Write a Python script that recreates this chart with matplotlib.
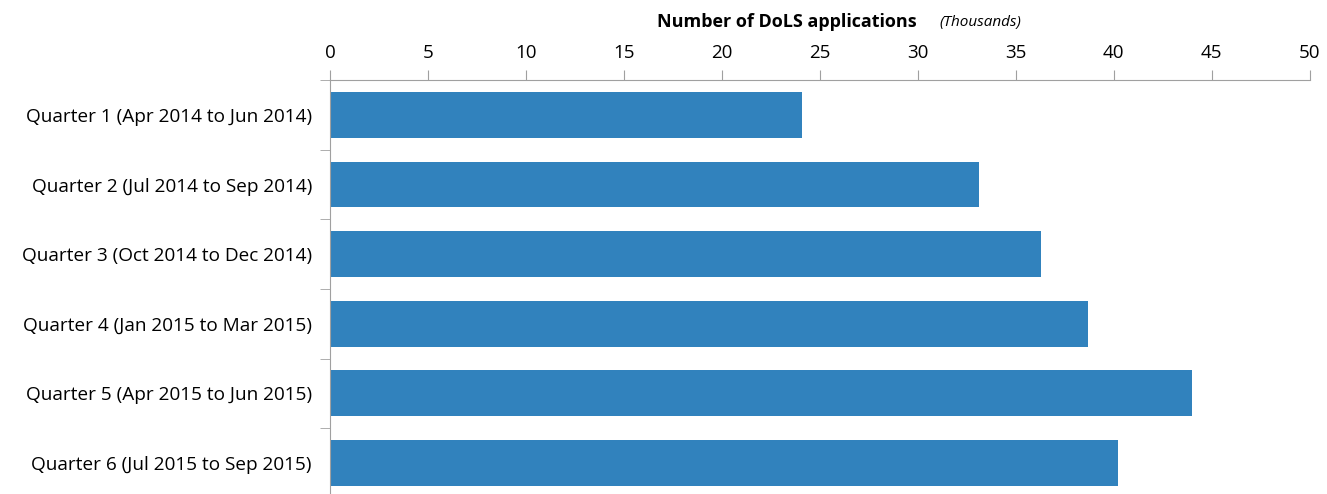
import numpy as np
import matplotlib.pyplot as plt

quarters = ['Quarter 1 (Apr 2014 to Jun 2014)',
            'Quarter 2 (Jul 2014 to Sep 2014)',
            'Quarter 3 (Oct 2014 to Dec 2014)',
            'Quarter 4 (Jan 2015 to Mar 2015)',
            'Quarter 5 (Apr 2015 to Jun 2015)',
            'Quarter 6 (Jul 2015 to Sep 2015)']
applications = [24.1, 33.1, 36.3, 38.7, 44.0, 40.2]
xticks = [0, 5, 10, 15, 20, 25, 30, 35, 40, 45, 50]

plt.rcParams['font.family'] = ['Open Sans', 'DejaVu Sans']

fig = plt.figure(figsize=(13.27, 4.94), dpi=100)
ax = fig.add_axes([0.2487, -0.008, 0.987 - 0.2487, 0.846])

y = np.arange(len(quarters))
ax.barh(y, applications, height=0.66, color='#3182bd')

ax.set_xlim(0, 50)
ax.set_ylim(len(quarters) - 0.5, -0.5)
ax.xaxis.tick_top()
ax.set_xticks(xticks)
ax.tick_params(axis='x', labelsize=13.5, length=7, color='#a0a0a0', pad=6)

ax.set_yticks(y)
ax.set_yticklabels(quarters, fontsize=13.7)
ax.tick_params(axis='y', which='major', length=0, pad=13)
ax.set_yticks(np.arange(-0.5, len(quarters), 1), minor=True)
ax.tick_params(axis='y', which='minor', length=7, color='#a0a0a0')

for s in ['right', 'bottom']:
    ax.spines[s].set_visible(False)
for s in ['top', 'left']:
    ax.spines[s].set_color('#a0a0a0')

fig.text(0.593, 0.955, 'Number of DoLS applications', fontsize=13,
         fontweight='bold', ha='center', va='center')
fig.text(0.739, 0.955, '(Thousands)', fontsize=11, style='italic',
         ha='center', va='center')

fig.savefig('out.png', dpi=100)
